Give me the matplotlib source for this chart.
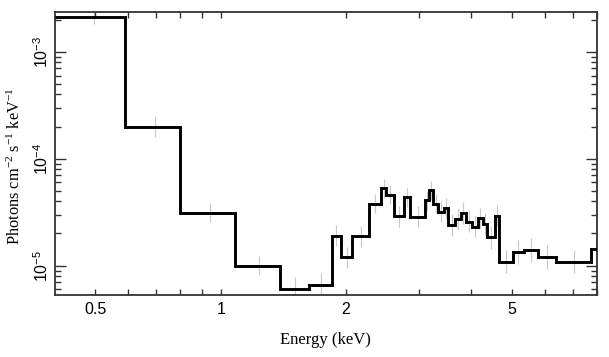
import numpy as np
import matplotlib
matplotlib.use("Agg")
import matplotlib.pyplot as plt
from matplotlib.ticker import FixedLocator, FixedFormatter, LogLocator, NullFormatter, FuncFormatter

plt.rcParams['mathtext.fontset'] = 'custom'
plt.rcParams['mathtext.rm'] = 'Liberation Serif'
plt.rcParams['mathtext.it'] = 'Liberation Serif:italic'
plt.rcParams['mathtext.sf'] = 'Liberation Sans'

edges = [0.40, 0.59, 0.80, 1.084, 1.386, 1.63, 1.85, 1.94, 2.07, 2.27,
         2.42, 2.50, 2.60, 2.755, 2.85, 3.10, 3.165, 3.24, 3.32, 3.43,
         3.52, 3.66, 3.77, 3.88, 4.01, 4.14, 4.26, 4.37, 4.555, 4.67,
         5.03, 5.34, 5.78, 6.40, 7.73, 8.2]
flux = [2.1e-3, 1.99e-4, 3.13e-5, 1.0e-5, 6.05e-6, 6.56e-6, 1.905e-5, 1.20e-5, 1.88e-5, 3.80e-5,
        5.29e-5, 4.61e-5, 2.90e-5, 4.36e-5, 2.88e-5, 4.08e-5, 5.07e-5, 3.80e-5, 3.20e-5, 3.44e-5,
        2.40e-5, 2.73e-5, 3.11e-5, 2.58e-5, 2.31e-5, 2.77e-5, 2.45e-5, 1.84e-5, 2.93e-5, 1.09e-5,
        1.35e-5, 1.40e-5, 1.20e-5, 1.09e-5, 1.43e-5]
err_dex = [0.06, 0.10, 0.09, 0.09, 0.11, 0.11, 0.10, 0.10, 0.10, 0.09,
           0.09, 0.09, 0.10, 0.09, 0.10, 0.09, 0.09, 0.09, 0.10, 0.10,
           0.10, 0.10, 0.10, 0.10, 0.10, 0.10, 0.10, 0.11, 0.10, 0.11,
           0.11, 0.11, 0.11, 0.11, 0.11]
xticks_major = [0.5, 1, 2, 5]
xtick_labels = ["0.5", "1", "2", "5"]
xticks_minor = [0.6, 0.7, 0.8, 0.9, 3, 4, 6, 7, 8]

edges_a = np.array(edges)
flux_a = np.array(flux)
err_a = np.array(err_dex)
centers = 0.5 * (edges_a[:-1] + edges_a[1:])
lo = flux_a - flux_a * 10 ** (-err_a)
hi = flux_a * 10 ** (err_a) - flux_a

fig = plt.figure(figsize=(6.09, 3.57), dpi=100)
ax = fig.add_axes([0.0903, 0.1737, 0.8897, 0.7923])

ax.errorbar(centers, flux_a, yerr=[lo, hi], fmt='none', ecolor='#c8c8c8', elinewidth=0.8, capsize=0, zorder=1)
ax.stairs(flux_a, edges_a, baseline=None, color='black', linewidth=2.1, zorder=3)

ax.set_xscale('log')
ax.set_yscale('log')
ax.set_xlim(0.4, 8.0)
ax.set_ylim(5.32e-6, 2.35e-3)

ax.xaxis.set_major_locator(FixedLocator(xticks_major))
ax.xaxis.set_major_formatter(FixedFormatter(xtick_labels))
ax.xaxis.set_minor_locator(FixedLocator(xticks_minor))
ax.xaxis.set_minor_formatter(NullFormatter())
ax.yaxis.set_major_locator(LogLocator(base=10))
ax.yaxis.set_major_formatter(FuncFormatter(lambda v, p: r'$\mathsf{10^{%d}}$' % int(round(np.log10(v)))))
ax.yaxis.set_minor_locator(LogLocator(base=10, subs=np.arange(2, 10)))
ax.yaxis.set_minor_formatter(NullFormatter())

tickfont = 'Liberation Sans'
for lab in ax.get_xticklabels() + ax.get_yticklabels():
    lab.set_fontfamily(tickfont)
    lab.set_fontsize(11.5)
for lab in ax.get_yticklabels():
    lab.set_rotation(90)
    lab.set_va('center')

ax.tick_params(axis='both', which='both', direction='in', top=True, right=True, width=1.0, color='#333333')
ax.tick_params(axis='x', which='major', length=4, pad=5)
ax.tick_params(axis='x', which='minor', length=4)
ax.tick_params(axis='y', which='major', length=8, pad=3)
ax.tick_params(axis='y', which='minor', length=4)

for s in ax.spines.values():
    s.set_linewidth(1.3)
    s.set_color('#333333')

ax.set_xlabel('Energy (keV)', fontfamily='Liberation Serif', fontsize=12, labelpad=11)
ax.set_ylabel(r'Photons cm$^{-2}$ s$^{-1}$ keV$^{-1}$', fontfamily='Liberation Serif', fontsize=11.8)
ax.yaxis.set_label_coords(-0.058, 0.455)

fig.savefig('out.png', dpi=100)
